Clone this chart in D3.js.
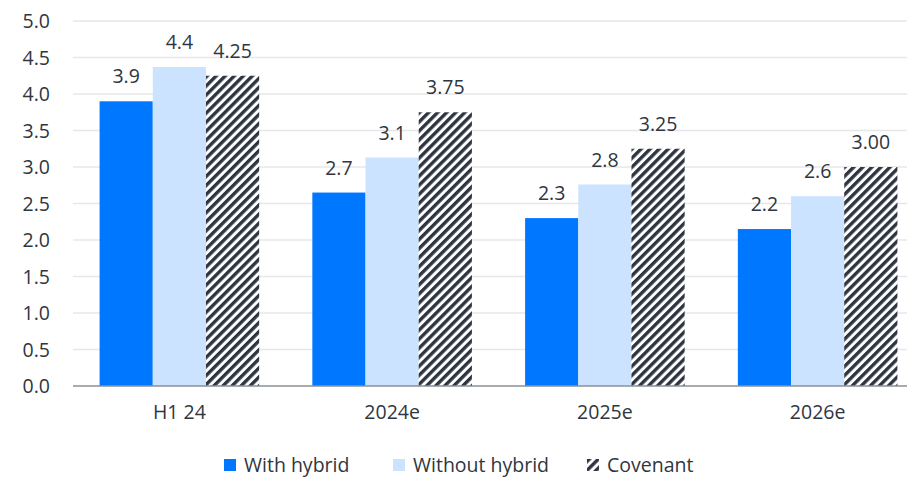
<!DOCTYPE html>
<html><head><meta charset="utf-8">
<script src="https://cdn.jsdelivr.net/npm/d3@7"></script>
<style>body{margin:0;background:#fff}svg{display:block}text{font-family:"Open Sans","Lato",sans-serif;fill:#2f3640}</style>
</head><body><svg id="c" width="907" height="478"></svg>
<script>
const categories = ["H1 24", "2024e", "2025e", "2026e"];
const seriesNames = ["With hybrid", "Without hybrid", "Covenant"];
const withHybrid = [3.9, 2.65, 2.3, 2.15];
const withoutHybrid = [4.37, 3.13, 2.76, 2.6];
const covenant = [4.25, 3.75, 3.25, 3.0];
const withHybridLabels = ["3.9", "2.7", "2.3", "2.2"];
const withoutHybridLabels = ["4.4", "3.1", "2.8", "2.6"];
const covenantLabels = ["4.25", "3.75", "3.25", "3.00"];
const yTicks = [0, 0.5, 1, 1.5, 2, 2.5, 3, 3.5, 4, 4.5, 5];

const svg = d3.select("#c");
const defs = svg.append("defs");
const pat = defs.append("pattern").attr("id","hatch").attr("patternUnits","userSpaceOnUse")
  .attr("width",6.4).attr("height",6.4).attr("patternTransform","rotate(45)");
pat.append("rect").attr("width",6.4).attr("height",6.4).attr("fill","#fff");
pat.append("rect").attr("width",3.4).attr("height",6.4).attr("fill","#2e3540");

const series = [
  {name: seriesNames[0], values: withHybrid, labels: withHybridLabels, fill: "#0077ff"},
  {name: seriesNames[1], values: withoutHybrid, labels: withoutHybridLabels, fill: "#cce3ff"},
  {name: seriesNames[2], values: covenant, labels: covenantLabels, fill: "url(#hatch)"}
];

const FS = 19.5;
const y = d3.scaleLinear().domain([0,5]).range([386,21]);
const x0 = d3.scaleBand().domain(categories).range([73,924]).paddingInner(0.25).paddingOuter(0.125);
const x1 = d3.scaleBand().domain(seriesNames).range([0, x0.bandwidth()]);

// grid
svg.append("g").selectAll("line").data(yTicks.filter(d=>d>0)).join("line")
  .attr("x1",73).attr("x2",907).attr("y1",d=>y(d)).attr("y2",d=>y(d))
  .attr("stroke","#e6e7e8").attr("stroke-width",1.5);

// y labels
const yAxis = svg.append("g").attr("transform","translate(50,0)")
  .call(d3.axisLeft(y).tickValues(yTicks).tickFormat(d3.format(".1f")).tickSize(0).tickPadding(0));
yAxis.select(".domain").remove();
yAxis.selectAll("text").attr("font-size",FS).attr("fill","#2f3640").attr("dy","0.35em");

// bars
const g = svg.append("g").selectAll("g").data(categories).join("g")
  .attr("transform",c=>`translate(${x0(c)},0)`);
series.forEach(s=>{
  g.append("rect")
    .attr("x",x1(s.name)).attr("width",x1.bandwidth())
    .attr("y",(c,i)=>y(s.values[i])).attr("height",(c,i)=>y(0)-y(s.values[i]))
    .attr("fill",s.fill);
  g.append("text")
    .attr("x",x1(s.name)+x1.bandwidth()/2)
    .attr("y",(c,i)=>y(s.values[i])-18)
    .attr("text-anchor","middle").attr("font-size",FS)
    .text((c,i)=>s.labels[i]);
});

// baseline
svg.append("line").attr("x1",73).attr("x2",907).attr("y1",y(0)).attr("y2",y(0))
  .attr("stroke","#8a9096").attr("stroke-width",1.5);

// x axis labels
const xAxis = svg.append("g").attr("transform",`translate(0,${y(0)})`)
  .call(d3.axisBottom(x0).tickSize(0).tickPadding(19));
xAxis.select(".domain").remove();
xAxis.selectAll("text").attr("font-size",FS).attr("fill","#2f3640");

// legend
const legendX = [224, 393, 587];
const leg = svg.append("g").selectAll("g").data(series).join("g")
  .attr("transform",(d,i)=>`translate(${legendX[i]},459)`);
leg.append("rect").attr("width",12).attr("height",12).attr("fill",d=>d.fill);
leg.append("text").attr("x",20).attr("y",6).attr("dy","0.35em").attr("font-size",FS).text(d=>d.name);
</script></body></html>
